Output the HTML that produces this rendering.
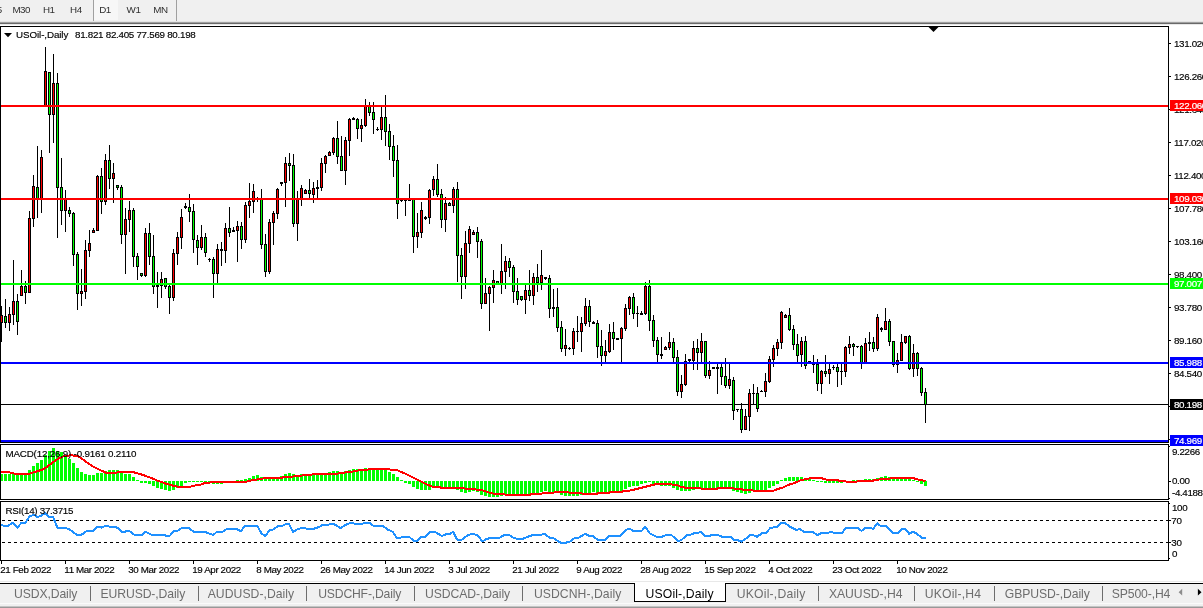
<!DOCTYPE html><html><head><meta charset="utf-8"><title>USOil-,Daily</title><style>
html,body{margin:0;padding:0;background:#fff}
body{width:1203px;height:608px;overflow:hidden;position:relative;font-family:"Liberation Sans",sans-serif;font-size:9.8px;color:#000;-webkit-text-stroke:0.15px #000}
.t{position:absolute;white-space:nowrap;line-height:12px;height:12px}
#tb{position:absolute;left:0;top:0;width:1203px;height:22px;background:#f0f0f0}
#tb .t{color:#303030;top:4.4px;font-size:9.8px;-webkit-text-stroke:0}
.g1{position:absolute;left:0;width:1203px;height:1px}
.ax{left:1174px;letter-spacing:-0.36px}
.d{letter-spacing:-0.19px}
.bx{position:absolute;left:1170px;width:33px;height:11px;color:#fff;line-height:11px;padding-left:4px;letter-spacing:-0.36px;white-space:nowrap;overflow:hidden;-webkit-text-stroke:0.2px #fff}
#tabs{position:absolute;left:0;top:583px;width:1203px;height:25px;background:#f0f0f0}
#tabs .t{font-size:12.2px;color:#6d6d6d;top:3px;line-height:16px;height:16px;letter-spacing:-0.2px;-webkit-text-stroke:0}
.sp{position:absolute;top:3px;width:1px;height:15px;background:#6d6d6d}

</style></head><body>
<div id="tb">
<div style="position:absolute;left:93px;top:0;width:1px;height:21px;background:#a0a0a0"></div>
<div style="position:absolute;left:94px;top:0;width:24px;height:20px;background:#f7f7f7"></div>
<div style="position:absolute;left:176px;top:0;width:1px;height:21px;background:#a0a0a0"></div>
<span class="t" style="left:-3.2px;letter-spacing:-0.45px">5</span>
<span class="t" style="left:12.4px;letter-spacing:-0.55px">M30</span>
<span class="t" style="left:43.0px;letter-spacing:-0.61px">H1</span>
<span class="t" style="left:70.1px;letter-spacing:-0.31px">H4</span>
<span class="t" style="left:99.2px;letter-spacing:-0.54px">D1</span>
<span class="t" style="left:126.4px;letter-spacing:-0.25px">W1</span>
<span class="t" style="left:153.2px;letter-spacing:-0.35px">MN</span>
</div>
<div class="g1" style="top:21px;background:#e3e3e3"></div><div class="g1" style="top:22px;background:#a0a0a0"></div><div class="g1" style="top:23px;background:#696969"></div><div class="g1" style="top:24px;background:#e8e8e8"></div>
<svg width="1203" height="608" viewBox="0 0 1203 608" style="position:absolute;left:0;top:0" shape-rendering="crispEdges">
<rect x="1" y="404" width="1167" height="1" fill="#000"/>
<rect x="1" y="306" width="1" height="36" fill="#000"/>
<rect x="0" y="315" width="3" height="8" fill="#000"/>
<rect x="1" y="316" width="1" height="6" fill="#ff0000"/>
<rect x="5" y="299" width="1" height="29" fill="#000"/>
<rect x="4" y="316" width="3" height="7" fill="#000"/>
<rect x="5" y="317" width="1" height="5" fill="#00ff00"/>
<rect x="9" y="307" width="1" height="24" fill="#000"/>
<rect x="8" y="314" width="3" height="9" fill="#000"/>
<rect x="9" y="315" width="1" height="7" fill="#ff0000"/>
<rect x="13" y="260" width="1" height="65" fill="#000"/>
<rect x="12" y="301" width="3" height="14" fill="#000"/>
<rect x="13" y="302" width="1" height="12" fill="#ff0000"/>
<rect x="17" y="294" width="1" height="41" fill="#000"/>
<rect x="16" y="301" width="3" height="21" fill="#000"/>
<rect x="17" y="302" width="1" height="19" fill="#00ff00"/>
<rect x="21" y="270" width="1" height="26" fill="#000"/>
<rect x="20" y="286" width="3" height="10" fill="#000"/>
<rect x="21" y="287" width="1" height="8" fill="#ff0000"/>
<rect x="25" y="281" width="1" height="23" fill="#000"/>
<rect x="24" y="286" width="3" height="7" fill="#000"/>
<rect x="25" y="287" width="1" height="5" fill="#00ff00"/>
<rect x="29" y="211" width="1" height="82" fill="#000"/>
<rect x="28" y="218" width="3" height="75" fill="#000"/>
<rect x="29" y="219" width="1" height="73" fill="#ff0000"/>
<rect x="33" y="175" width="1" height="52" fill="#000"/>
<rect x="32" y="186" width="3" height="33" fill="#000"/>
<rect x="33" y="187" width="1" height="31" fill="#ff0000"/>
<rect x="37" y="146" width="1" height="72" fill="#000"/>
<rect x="36" y="187" width="3" height="13" fill="#000"/>
<rect x="37" y="188" width="1" height="11" fill="#00ff00"/>
<rect x="41" y="150" width="1" height="63" fill="#000"/>
<rect x="40" y="157" width="3" height="43" fill="#000"/>
<rect x="41" y="158" width="1" height="41" fill="#ff0000"/>
<rect x="45" y="47" width="1" height="59" fill="#000"/>
<rect x="44" y="71" width="3" height="35" fill="#000"/>
<rect x="45" y="72" width="1" height="33" fill="#ff0000"/>
<rect x="49" y="72" width="1" height="81" fill="#000"/>
<rect x="48" y="72" width="3" height="43" fill="#000"/>
<rect x="49" y="73" width="1" height="41" fill="#00ff00"/>
<rect x="53" y="54" width="1" height="89" fill="#000"/>
<rect x="52" y="83" width="3" height="32" fill="#000"/>
<rect x="53" y="84" width="1" height="30" fill="#ff0000"/>
<rect x="57" y="73" width="1" height="165" fill="#000"/>
<rect x="56" y="83" width="3" height="105" fill="#000"/>
<rect x="57" y="84" width="1" height="103" fill="#00ff00"/>
<rect x="61" y="158" width="1" height="67" fill="#000"/>
<rect x="60" y="187" width="3" height="24" fill="#000"/>
<rect x="61" y="188" width="1" height="22" fill="#00ff00"/>
<rect x="65" y="190" width="1" height="42" fill="#000"/>
<rect x="64" y="198" width="3" height="13" fill="#000"/>
<rect x="65" y="199" width="1" height="11" fill="#ff0000"/>
<rect x="69" y="207" width="1" height="10" fill="#000"/>
<rect x="68" y="210" width="3" height="4" fill="#000"/>
<rect x="69" y="211" width="1" height="2" fill="#00ff00"/>
<rect x="73" y="212" width="1" height="54" fill="#000"/>
<rect x="72" y="213" width="3" height="42" fill="#000"/>
<rect x="73" y="214" width="1" height="40" fill="#00ff00"/>
<rect x="77" y="252" width="1" height="58" fill="#000"/>
<rect x="76" y="254" width="3" height="40" fill="#000"/>
<rect x="77" y="255" width="1" height="38" fill="#00ff00"/>
<rect x="81" y="269" width="1" height="37" fill="#000"/>
<rect x="80" y="291" width="3" height="3" fill="#000"/>
<rect x="81" y="292" width="1" height="1" fill="#ff0000"/>
<rect x="85" y="240" width="1" height="59" fill="#000"/>
<rect x="84" y="250" width="3" height="42" fill="#000"/>
<rect x="85" y="251" width="1" height="40" fill="#ff0000"/>
<rect x="89" y="230" width="1" height="27" fill="#000"/>
<rect x="88" y="243" width="3" height="8" fill="#000"/>
<rect x="89" y="244" width="1" height="6" fill="#ff0000"/>
<rect x="93" y="228" width="1" height="5" fill="#000"/>
<rect x="92" y="230" width="3" height="3" fill="#000"/>
<rect x="93" y="231" width="1" height="1" fill="#ff0000"/>
<rect x="97" y="175" width="1" height="56" fill="#000"/>
<rect x="96" y="176" width="3" height="55" fill="#000"/>
<rect x="97" y="177" width="1" height="53" fill="#ff0000"/>
<rect x="101" y="168" width="1" height="46" fill="#000"/>
<rect x="100" y="176" width="3" height="26" fill="#000"/>
<rect x="101" y="177" width="1" height="24" fill="#00ff00"/>
<rect x="105" y="154" width="1" height="51" fill="#000"/>
<rect x="104" y="160" width="3" height="42" fill="#000"/>
<rect x="105" y="161" width="1" height="40" fill="#ff0000"/>
<rect x="109" y="145" width="1" height="44" fill="#000"/>
<rect x="108" y="160" width="3" height="19" fill="#000"/>
<rect x="109" y="161" width="1" height="17" fill="#00ff00"/>
<rect x="113" y="163" width="1" height="40" fill="#000"/>
<rect x="112" y="173" width="3" height="6" fill="#000"/>
<rect x="113" y="174" width="1" height="4" fill="#ff0000"/>
<rect x="117" y="185" width="1" height="5" fill="#000"/>
<rect x="116" y="185" width="3" height="3" fill="#000"/>
<rect x="117" y="186" width="1" height="1" fill="#00ff00"/>
<rect x="121" y="185" width="1" height="59" fill="#000"/>
<rect x="120" y="187" width="3" height="48" fill="#000"/>
<rect x="121" y="188" width="1" height="46" fill="#00ff00"/>
<rect x="125" y="208" width="1" height="66" fill="#000"/>
<rect x="124" y="219" width="3" height="16" fill="#000"/>
<rect x="125" y="220" width="1" height="14" fill="#ff0000"/>
<rect x="129" y="201" width="1" height="31" fill="#000"/>
<rect x="128" y="210" width="3" height="10" fill="#000"/>
<rect x="129" y="211" width="1" height="8" fill="#ff0000"/>
<rect x="133" y="208" width="1" height="59" fill="#000"/>
<rect x="132" y="210" width="3" height="47" fill="#000"/>
<rect x="133" y="211" width="1" height="45" fill="#00ff00"/>
<rect x="137" y="253" width="1" height="27" fill="#000"/>
<rect x="136" y="256" width="3" height="11" fill="#000"/>
<rect x="137" y="257" width="1" height="9" fill="#00ff00"/>
<rect x="141" y="273" width="1" height="4" fill="#000"/>
<rect x="140" y="273" width="3" height="3" fill="#000"/>
<rect x="141" y="274" width="1" height="1" fill="#00ff00"/>
<rect x="145" y="228" width="1" height="49" fill="#000"/>
<rect x="144" y="233" width="3" height="43" fill="#000"/>
<rect x="145" y="234" width="1" height="41" fill="#ff0000"/>
<rect x="149" y="223" width="1" height="42" fill="#000"/>
<rect x="148" y="233" width="3" height="24" fill="#000"/>
<rect x="149" y="234" width="1" height="22" fill="#00ff00"/>
<rect x="153" y="235" width="1" height="59" fill="#000"/>
<rect x="152" y="256" width="3" height="31" fill="#000"/>
<rect x="153" y="257" width="1" height="29" fill="#00ff00"/>
<rect x="157" y="272" width="1" height="36" fill="#000"/>
<rect x="156" y="285" width="3" height="2" fill="#000"/>
<rect x="161" y="272" width="1" height="26" fill="#000"/>
<rect x="160" y="279" width="3" height="7" fill="#000"/>
<rect x="161" y="280" width="1" height="5" fill="#ff0000"/>
<rect x="165" y="278" width="1" height="11" fill="#000"/>
<rect x="164" y="278" width="3" height="9" fill="#000"/>
<rect x="165" y="279" width="1" height="7" fill="#00ff00"/>
<rect x="169" y="285" width="1" height="29" fill="#000"/>
<rect x="168" y="286" width="3" height="12" fill="#000"/>
<rect x="169" y="287" width="1" height="10" fill="#00ff00"/>
<rect x="173" y="249" width="1" height="52" fill="#000"/>
<rect x="172" y="253" width="3" height="45" fill="#000"/>
<rect x="173" y="254" width="1" height="43" fill="#ff0000"/>
<rect x="177" y="232" width="1" height="33" fill="#000"/>
<rect x="176" y="237" width="3" height="17" fill="#000"/>
<rect x="177" y="238" width="1" height="15" fill="#ff0000"/>
<rect x="181" y="209" width="1" height="40" fill="#000"/>
<rect x="180" y="217" width="3" height="21" fill="#000"/>
<rect x="181" y="218" width="1" height="19" fill="#ff0000"/>
<rect x="185" y="203" width="1" height="6" fill="#000"/>
<rect x="184" y="206" width="3" height="2" fill="#000"/>
<rect x="189" y="194" width="1" height="28" fill="#000"/>
<rect x="188" y="207" width="3" height="5" fill="#000"/>
<rect x="189" y="208" width="1" height="3" fill="#00ff00"/>
<rect x="193" y="204" width="1" height="49" fill="#000"/>
<rect x="192" y="211" width="3" height="29" fill="#000"/>
<rect x="193" y="212" width="1" height="27" fill="#00ff00"/>
<rect x="197" y="235" width="1" height="30" fill="#000"/>
<rect x="196" y="240" width="3" height="8" fill="#000"/>
<rect x="197" y="241" width="1" height="6" fill="#00ff00"/>
<rect x="201" y="225" width="1" height="25" fill="#000"/>
<rect x="200" y="237" width="3" height="11" fill="#000"/>
<rect x="201" y="238" width="1" height="9" fill="#ff0000"/>
<rect x="205" y="233" width="1" height="24" fill="#000"/>
<rect x="204" y="237" width="3" height="16" fill="#000"/>
<rect x="205" y="238" width="1" height="14" fill="#00ff00"/>
<rect x="209" y="258" width="1" height="4" fill="#000"/>
<rect x="208" y="259" width="3" height="1" fill="#000"/>
<rect x="213" y="257" width="1" height="41" fill="#000"/>
<rect x="212" y="259" width="3" height="15" fill="#000"/>
<rect x="213" y="260" width="1" height="13" fill="#00ff00"/>
<rect x="217" y="244" width="1" height="40" fill="#000"/>
<rect x="216" y="249" width="3" height="25" fill="#000"/>
<rect x="217" y="250" width="1" height="23" fill="#ff0000"/>
<rect x="221" y="242" width="1" height="24" fill="#000"/>
<rect x="220" y="249" width="3" height="2" fill="#000"/>
<rect x="225" y="223" width="1" height="40" fill="#000"/>
<rect x="224" y="228" width="3" height="23" fill="#000"/>
<rect x="225" y="229" width="1" height="21" fill="#ff0000"/>
<rect x="229" y="207" width="1" height="30" fill="#000"/>
<rect x="228" y="228" width="3" height="5" fill="#000"/>
<rect x="229" y="229" width="1" height="3" fill="#00ff00"/>
<rect x="233" y="227" width="1" height="5" fill="#000"/>
<rect x="232" y="230" width="3" height="2" fill="#000"/>
<rect x="237" y="221" width="1" height="41" fill="#000"/>
<rect x="236" y="226" width="3" height="5" fill="#000"/>
<rect x="237" y="227" width="1" height="3" fill="#ff0000"/>
<rect x="241" y="222" width="1" height="27" fill="#000"/>
<rect x="240" y="226" width="3" height="14" fill="#000"/>
<rect x="241" y="227" width="1" height="12" fill="#00ff00"/>
<rect x="245" y="202" width="1" height="41" fill="#000"/>
<rect x="244" y="205" width="3" height="35" fill="#000"/>
<rect x="245" y="206" width="1" height="33" fill="#ff0000"/>
<rect x="249" y="183" width="1" height="35" fill="#000"/>
<rect x="248" y="201" width="3" height="5" fill="#000"/>
<rect x="249" y="202" width="1" height="3" fill="#ff0000"/>
<rect x="253" y="184" width="1" height="29" fill="#000"/>
<rect x="252" y="191" width="3" height="11" fill="#000"/>
<rect x="253" y="192" width="1" height="9" fill="#ff0000"/>
<rect x="257" y="197" width="1" height="5" fill="#000"/>
<rect x="256" y="199" width="3" height="1" fill="#000"/>
<rect x="261" y="189" width="1" height="60" fill="#000"/>
<rect x="260" y="198" width="3" height="47" fill="#000"/>
<rect x="261" y="199" width="1" height="45" fill="#00ff00"/>
<rect x="265" y="234" width="1" height="43" fill="#000"/>
<rect x="264" y="244" width="3" height="28" fill="#000"/>
<rect x="265" y="245" width="1" height="26" fill="#00ff00"/>
<rect x="269" y="219" width="1" height="55" fill="#000"/>
<rect x="268" y="222" width="3" height="50" fill="#000"/>
<rect x="269" y="223" width="1" height="48" fill="#ff0000"/>
<rect x="273" y="211" width="1" height="34" fill="#000"/>
<rect x="272" y="213" width="3" height="10" fill="#000"/>
<rect x="273" y="214" width="1" height="8" fill="#ff0000"/>
<rect x="277" y="188" width="1" height="31" fill="#000"/>
<rect x="276" y="189" width="3" height="25" fill="#000"/>
<rect x="277" y="190" width="1" height="23" fill="#ff0000"/>
<rect x="281" y="182" width="1" height="4" fill="#000"/>
<rect x="280" y="182" width="3" height="2" fill="#000"/>
<rect x="285" y="157" width="1" height="50" fill="#000"/>
<rect x="284" y="163" width="3" height="20" fill="#000"/>
<rect x="285" y="164" width="1" height="18" fill="#ff0000"/>
<rect x="289" y="153" width="1" height="28" fill="#000"/>
<rect x="288" y="163" width="3" height="3" fill="#000"/>
<rect x="289" y="164" width="1" height="1" fill="#00ff00"/>
<rect x="293" y="154" width="1" height="73" fill="#000"/>
<rect x="292" y="165" width="3" height="59" fill="#000"/>
<rect x="293" y="166" width="1" height="57" fill="#00ff00"/>
<rect x="297" y="191" width="1" height="50" fill="#000"/>
<rect x="296" y="199" width="3" height="25" fill="#000"/>
<rect x="297" y="200" width="1" height="23" fill="#ff0000"/>
<rect x="301" y="185" width="1" height="21" fill="#000"/>
<rect x="300" y="188" width="3" height="11" fill="#000"/>
<rect x="301" y="189" width="1" height="9" fill="#ff0000"/>
<rect x="305" y="189" width="1" height="5" fill="#000"/>
<rect x="304" y="190" width="3" height="4" fill="#000"/>
<rect x="305" y="191" width="1" height="2" fill="#ff0000"/>
<rect x="309" y="179" width="1" height="19" fill="#000"/>
<rect x="308" y="190" width="3" height="4" fill="#000"/>
<rect x="309" y="191" width="1" height="2" fill="#00ff00"/>
<rect x="313" y="182" width="1" height="21" fill="#000"/>
<rect x="312" y="188" width="3" height="7" fill="#000"/>
<rect x="313" y="189" width="1" height="5" fill="#ff0000"/>
<rect x="317" y="180" width="1" height="18" fill="#000"/>
<rect x="316" y="187" width="3" height="2" fill="#000"/>
<rect x="321" y="158" width="1" height="33" fill="#000"/>
<rect x="320" y="163" width="3" height="25" fill="#000"/>
<rect x="321" y="164" width="1" height="23" fill="#ff0000"/>
<rect x="325" y="155" width="1" height="18" fill="#000"/>
<rect x="324" y="156" width="3" height="8" fill="#000"/>
<rect x="325" y="157" width="1" height="6" fill="#ff0000"/>
<rect x="329" y="151" width="1" height="5" fill="#000"/>
<rect x="328" y="152" width="3" height="4" fill="#000"/>
<rect x="329" y="153" width="1" height="2" fill="#ff0000"/>
<rect x="333" y="137" width="1" height="18" fill="#000"/>
<rect x="332" y="138" width="3" height="15" fill="#000"/>
<rect x="333" y="139" width="1" height="13" fill="#ff0000"/>
<rect x="337" y="121" width="1" height="43" fill="#000"/>
<rect x="336" y="138" width="3" height="19" fill="#000"/>
<rect x="337" y="139" width="1" height="17" fill="#00ff00"/>
<rect x="341" y="136" width="1" height="35" fill="#000"/>
<rect x="340" y="156" width="3" height="15" fill="#000"/>
<rect x="341" y="157" width="1" height="13" fill="#00ff00"/>
<rect x="345" y="137" width="1" height="48" fill="#000"/>
<rect x="344" y="140" width="3" height="31" fill="#000"/>
<rect x="345" y="141" width="1" height="29" fill="#ff0000"/>
<rect x="349" y="118" width="1" height="38" fill="#000"/>
<rect x="348" y="119" width="3" height="22" fill="#000"/>
<rect x="349" y="120" width="1" height="20" fill="#ff0000"/>
<rect x="353" y="117" width="1" height="3" fill="#000"/>
<rect x="352" y="118" width="3" height="2" fill="#000"/>
<rect x="357" y="118" width="1" height="21" fill="#000"/>
<rect x="356" y="119" width="3" height="10" fill="#000"/>
<rect x="357" y="120" width="1" height="8" fill="#00ff00"/>
<rect x="361" y="119" width="1" height="23" fill="#000"/>
<rect x="360" y="125" width="3" height="4" fill="#000"/>
<rect x="361" y="126" width="1" height="2" fill="#ff0000"/>
<rect x="365" y="99" width="1" height="28" fill="#000"/>
<rect x="364" y="105" width="3" height="21" fill="#000"/>
<rect x="365" y="106" width="1" height="19" fill="#ff0000"/>
<rect x="369" y="102" width="1" height="14" fill="#000"/>
<rect x="368" y="106" width="3" height="7" fill="#000"/>
<rect x="369" y="107" width="1" height="5" fill="#00ff00"/>
<rect x="373" y="102" width="1" height="32" fill="#000"/>
<rect x="372" y="112" width="3" height="8" fill="#000"/>
<rect x="373" y="113" width="1" height="6" fill="#00ff00"/>
<rect x="377" y="127" width="1" height="4" fill="#000"/>
<rect x="376" y="129" width="3" height="1" fill="#000"/>
<rect x="381" y="106" width="1" height="34" fill="#000"/>
<rect x="380" y="117" width="3" height="13" fill="#000"/>
<rect x="381" y="118" width="1" height="11" fill="#ff0000"/>
<rect x="385" y="95" width="1" height="51" fill="#000"/>
<rect x="384" y="117" width="3" height="15" fill="#000"/>
<rect x="385" y="118" width="1" height="13" fill="#00ff00"/>
<rect x="389" y="124" width="1" height="36" fill="#000"/>
<rect x="388" y="131" width="3" height="16" fill="#000"/>
<rect x="389" y="132" width="1" height="14" fill="#00ff00"/>
<rect x="393" y="135" width="1" height="42" fill="#000"/>
<rect x="392" y="146" width="3" height="15" fill="#000"/>
<rect x="393" y="147" width="1" height="13" fill="#00ff00"/>
<rect x="397" y="145" width="1" height="74" fill="#000"/>
<rect x="396" y="160" width="3" height="44" fill="#000"/>
<rect x="397" y="161" width="1" height="42" fill="#00ff00"/>
<rect x="401" y="199" width="1" height="3" fill="#000"/>
<rect x="400" y="200" width="3" height="1" fill="#000"/>
<rect x="405" y="198" width="1" height="18" fill="#000"/>
<rect x="404" y="200" width="3" height="1" fill="#000"/>
<rect x="409" y="184" width="1" height="17" fill="#000"/>
<rect x="408" y="200" width="3" height="1" fill="#000"/>
<rect x="413" y="200" width="1" height="53" fill="#000"/>
<rect x="412" y="199" width="3" height="38" fill="#000"/>
<rect x="413" y="200" width="1" height="36" fill="#00ff00"/>
<rect x="417" y="213" width="1" height="35" fill="#000"/>
<rect x="416" y="232" width="3" height="5" fill="#000"/>
<rect x="417" y="233" width="1" height="3" fill="#ff0000"/>
<rect x="421" y="202" width="1" height="36" fill="#000"/>
<rect x="420" y="210" width="3" height="23" fill="#000"/>
<rect x="421" y="211" width="1" height="21" fill="#ff0000"/>
<rect x="425" y="216" width="1" height="4" fill="#000"/>
<rect x="424" y="217" width="3" height="2" fill="#000"/>
<rect x="429" y="189" width="1" height="35" fill="#000"/>
<rect x="428" y="190" width="3" height="28" fill="#000"/>
<rect x="429" y="191" width="1" height="26" fill="#ff0000"/>
<rect x="433" y="176" width="1" height="20" fill="#000"/>
<rect x="432" y="179" width="3" height="11" fill="#000"/>
<rect x="433" y="180" width="1" height="9" fill="#ff0000"/>
<rect x="437" y="164" width="1" height="33" fill="#000"/>
<rect x="436" y="179" width="3" height="16" fill="#000"/>
<rect x="437" y="180" width="1" height="14" fill="#00ff00"/>
<rect x="441" y="189" width="1" height="39" fill="#000"/>
<rect x="440" y="194" width="3" height="26" fill="#000"/>
<rect x="441" y="195" width="1" height="24" fill="#00ff00"/>
<rect x="445" y="197" width="1" height="35" fill="#000"/>
<rect x="444" y="203" width="3" height="17" fill="#000"/>
<rect x="445" y="204" width="1" height="15" fill="#ff0000"/>
<rect x="449" y="202" width="1" height="4" fill="#000"/>
<rect x="448" y="203" width="3" height="3" fill="#000"/>
<rect x="449" y="204" width="1" height="1" fill="#00ff00"/>
<rect x="453" y="187" width="1" height="26" fill="#000"/>
<rect x="452" y="189" width="3" height="17" fill="#000"/>
<rect x="453" y="190" width="1" height="15" fill="#ff0000"/>
<rect x="457" y="182" width="1" height="100" fill="#000"/>
<rect x="456" y="189" width="3" height="67" fill="#000"/>
<rect x="457" y="190" width="1" height="65" fill="#00ff00"/>
<rect x="461" y="248" width="1" height="51" fill="#000"/>
<rect x="460" y="255" width="3" height="22" fill="#000"/>
<rect x="461" y="256" width="1" height="20" fill="#00ff00"/>
<rect x="465" y="231" width="1" height="58" fill="#000"/>
<rect x="464" y="243" width="3" height="34" fill="#000"/>
<rect x="465" y="244" width="1" height="32" fill="#ff0000"/>
<rect x="469" y="226" width="1" height="27" fill="#000"/>
<rect x="468" y="229" width="3" height="15" fill="#000"/>
<rect x="469" y="230" width="1" height="13" fill="#ff0000"/>
<rect x="473" y="230" width="1" height="5" fill="#000"/>
<rect x="472" y="232" width="3" height="3" fill="#000"/>
<rect x="473" y="233" width="1" height="1" fill="#ff0000"/>
<rect x="477" y="227" width="1" height="31" fill="#000"/>
<rect x="476" y="232" width="3" height="10" fill="#000"/>
<rect x="477" y="233" width="1" height="8" fill="#00ff00"/>
<rect x="481" y="239" width="1" height="70" fill="#000"/>
<rect x="480" y="241" width="3" height="63" fill="#000"/>
<rect x="481" y="242" width="1" height="61" fill="#00ff00"/>
<rect x="485" y="278" width="1" height="26" fill="#000"/>
<rect x="484" y="293" width="3" height="11" fill="#000"/>
<rect x="485" y="294" width="1" height="9" fill="#ff0000"/>
<rect x="489" y="286" width="1" height="45" fill="#000"/>
<rect x="488" y="287" width="3" height="7" fill="#000"/>
<rect x="489" y="288" width="1" height="5" fill="#ff0000"/>
<rect x="493" y="270" width="1" height="33" fill="#000"/>
<rect x="492" y="280" width="3" height="8" fill="#000"/>
<rect x="493" y="281" width="1" height="6" fill="#ff0000"/>
<rect x="497" y="281" width="1" height="3" fill="#000"/>
<rect x="496" y="281" width="3" height="3" fill="#000"/>
<rect x="497" y="282" width="1" height="1" fill="#00ff00"/>
<rect x="501" y="244" width="1" height="50" fill="#000"/>
<rect x="500" y="271" width="3" height="13" fill="#000"/>
<rect x="501" y="272" width="1" height="11" fill="#ff0000"/>
<rect x="505" y="256" width="1" height="33" fill="#000"/>
<rect x="504" y="261" width="3" height="11" fill="#000"/>
<rect x="505" y="262" width="1" height="9" fill="#ff0000"/>
<rect x="509" y="258" width="1" height="19" fill="#000"/>
<rect x="508" y="261" width="3" height="7" fill="#000"/>
<rect x="509" y="262" width="1" height="5" fill="#00ff00"/>
<rect x="513" y="265" width="1" height="38" fill="#000"/>
<rect x="512" y="267" width="3" height="25" fill="#000"/>
<rect x="513" y="268" width="1" height="23" fill="#00ff00"/>
<rect x="517" y="278" width="1" height="27" fill="#000"/>
<rect x="516" y="291" width="3" height="9" fill="#000"/>
<rect x="517" y="292" width="1" height="7" fill="#00ff00"/>
<rect x="521" y="296" width="1" height="5" fill="#000"/>
<rect x="520" y="296" width="3" height="4" fill="#000"/>
<rect x="521" y="297" width="1" height="2" fill="#00ff00"/>
<rect x="525" y="285" width="1" height="29" fill="#000"/>
<rect x="524" y="290" width="3" height="10" fill="#000"/>
<rect x="525" y="291" width="1" height="8" fill="#ff0000"/>
<rect x="529" y="270" width="1" height="31" fill="#000"/>
<rect x="528" y="290" width="3" height="6" fill="#000"/>
<rect x="529" y="291" width="1" height="4" fill="#00ff00"/>
<rect x="533" y="273" width="1" height="32" fill="#000"/>
<rect x="532" y="277" width="3" height="19" fill="#000"/>
<rect x="533" y="278" width="1" height="17" fill="#ff0000"/>
<rect x="537" y="264" width="1" height="28" fill="#000"/>
<rect x="536" y="277" width="3" height="6" fill="#000"/>
<rect x="537" y="278" width="1" height="4" fill="#00ff00"/>
<rect x="541" y="250" width="1" height="40" fill="#000"/>
<rect x="540" y="275" width="3" height="8" fill="#000"/>
<rect x="541" y="276" width="1" height="6" fill="#ff0000"/>
<rect x="545" y="277" width="1" height="3" fill="#000"/>
<rect x="544" y="277" width="3" height="2" fill="#000"/>
<rect x="549" y="275" width="1" height="43" fill="#000"/>
<rect x="548" y="278" width="3" height="31" fill="#000"/>
<rect x="549" y="279" width="1" height="29" fill="#00ff00"/>
<rect x="553" y="289" width="1" height="28" fill="#000"/>
<rect x="552" y="307" width="3" height="2" fill="#000"/>
<rect x="557" y="288" width="1" height="44" fill="#000"/>
<rect x="556" y="307" width="3" height="21" fill="#000"/>
<rect x="557" y="308" width="1" height="19" fill="#00ff00"/>
<rect x="561" y="321" width="1" height="31" fill="#000"/>
<rect x="560" y="327" width="3" height="22" fill="#000"/>
<rect x="561" y="328" width="1" height="20" fill="#00ff00"/>
<rect x="565" y="329" width="1" height="27" fill="#000"/>
<rect x="564" y="345" width="3" height="4" fill="#000"/>
<rect x="565" y="346" width="1" height="2" fill="#ff0000"/>
<rect x="569" y="347" width="1" height="3" fill="#000"/>
<rect x="568" y="348" width="3" height="1" fill="#000"/>
<rect x="573" y="328" width="1" height="27" fill="#000"/>
<rect x="572" y="331" width="3" height="18" fill="#000"/>
<rect x="573" y="332" width="1" height="16" fill="#ff0000"/>
<rect x="577" y="316" width="1" height="26" fill="#000"/>
<rect x="576" y="331" width="3" height="1" fill="#000"/>
<rect x="581" y="317" width="1" height="35" fill="#000"/>
<rect x="580" y="323" width="3" height="9" fill="#000"/>
<rect x="581" y="324" width="1" height="7" fill="#ff0000"/>
<rect x="585" y="298" width="1" height="28" fill="#000"/>
<rect x="584" y="306" width="3" height="18" fill="#000"/>
<rect x="585" y="307" width="1" height="16" fill="#ff0000"/>
<rect x="589" y="300" width="1" height="27" fill="#000"/>
<rect x="588" y="306" width="3" height="16" fill="#000"/>
<rect x="589" y="307" width="1" height="14" fill="#00ff00"/>
<rect x="593" y="321" width="1" height="3" fill="#000"/>
<rect x="592" y="322" width="3" height="2" fill="#000"/>
<rect x="597" y="320" width="1" height="38" fill="#000"/>
<rect x="596" y="323" width="3" height="24" fill="#000"/>
<rect x="597" y="324" width="1" height="22" fill="#00ff00"/>
<rect x="601" y="330" width="1" height="36" fill="#000"/>
<rect x="600" y="346" width="3" height="10" fill="#000"/>
<rect x="601" y="347" width="1" height="8" fill="#00ff00"/>
<rect x="605" y="340" width="1" height="23" fill="#000"/>
<rect x="604" y="351" width="3" height="5" fill="#000"/>
<rect x="605" y="352" width="1" height="3" fill="#ff0000"/>
<rect x="609" y="324" width="1" height="29" fill="#000"/>
<rect x="608" y="332" width="3" height="20" fill="#000"/>
<rect x="609" y="333" width="1" height="18" fill="#ff0000"/>
<rect x="613" y="322" width="1" height="28" fill="#000"/>
<rect x="612" y="332" width="3" height="7" fill="#000"/>
<rect x="613" y="333" width="1" height="5" fill="#00ff00"/>
<rect x="617" y="338" width="1" height="2" fill="#000"/>
<rect x="616" y="338" width="3" height="2" fill="#000"/>
<rect x="621" y="327" width="1" height="36" fill="#000"/>
<rect x="620" y="328" width="3" height="11" fill="#000"/>
<rect x="621" y="329" width="1" height="9" fill="#ff0000"/>
<rect x="625" y="304" width="1" height="27" fill="#000"/>
<rect x="624" y="308" width="3" height="21" fill="#000"/>
<rect x="625" y="309" width="1" height="19" fill="#ff0000"/>
<rect x="629" y="296" width="1" height="19" fill="#000"/>
<rect x="628" y="297" width="3" height="12" fill="#000"/>
<rect x="629" y="298" width="1" height="10" fill="#ff0000"/>
<rect x="633" y="293" width="1" height="26" fill="#000"/>
<rect x="632" y="297" width="3" height="17" fill="#000"/>
<rect x="633" y="298" width="1" height="15" fill="#00ff00"/>
<rect x="637" y="306" width="1" height="21" fill="#000"/>
<rect x="636" y="313" width="3" height="1" fill="#000"/>
<rect x="641" y="311" width="1" height="4" fill="#000"/>
<rect x="640" y="313" width="3" height="2" fill="#000"/>
<rect x="645" y="282" width="1" height="33" fill="#000"/>
<rect x="644" y="286" width="3" height="28" fill="#000"/>
<rect x="645" y="287" width="1" height="26" fill="#ff0000"/>
<rect x="649" y="280" width="1" height="51" fill="#000"/>
<rect x="648" y="286" width="3" height="35" fill="#000"/>
<rect x="649" y="287" width="1" height="33" fill="#00ff00"/>
<rect x="653" y="315" width="1" height="32" fill="#000"/>
<rect x="652" y="320" width="3" height="21" fill="#000"/>
<rect x="653" y="321" width="1" height="19" fill="#00ff00"/>
<rect x="657" y="337" width="1" height="26" fill="#000"/>
<rect x="656" y="340" width="3" height="15" fill="#000"/>
<rect x="657" y="341" width="1" height="13" fill="#00ff00"/>
<rect x="661" y="337" width="1" height="22" fill="#000"/>
<rect x="660" y="354" width="3" height="2" fill="#000"/>
<rect x="665" y="346" width="1" height="4" fill="#000"/>
<rect x="664" y="347" width="3" height="3" fill="#000"/>
<rect x="665" y="348" width="1" height="1" fill="#ff0000"/>
<rect x="669" y="332" width="1" height="18" fill="#000"/>
<rect x="668" y="342" width="3" height="6" fill="#000"/>
<rect x="669" y="343" width="1" height="4" fill="#ff0000"/>
<rect x="673" y="338" width="1" height="25" fill="#000"/>
<rect x="672" y="342" width="3" height="16" fill="#000"/>
<rect x="673" y="343" width="1" height="14" fill="#00ff00"/>
<rect x="677" y="350" width="1" height="46" fill="#000"/>
<rect x="676" y="357" width="3" height="35" fill="#000"/>
<rect x="677" y="358" width="1" height="33" fill="#00ff00"/>
<rect x="681" y="375" width="1" height="23" fill="#000"/>
<rect x="680" y="384" width="3" height="8" fill="#000"/>
<rect x="681" y="385" width="1" height="6" fill="#ff0000"/>
<rect x="685" y="354" width="1" height="32" fill="#000"/>
<rect x="684" y="361" width="3" height="24" fill="#000"/>
<rect x="685" y="362" width="1" height="22" fill="#ff0000"/>
<rect x="689" y="359" width="1" height="3" fill="#000"/>
<rect x="688" y="359" width="3" height="2" fill="#000"/>
<rect x="693" y="341" width="1" height="29" fill="#000"/>
<rect x="692" y="348" width="3" height="13" fill="#000"/>
<rect x="693" y="349" width="1" height="11" fill="#ff0000"/>
<rect x="697" y="339" width="1" height="31" fill="#000"/>
<rect x="696" y="348" width="3" height="5" fill="#000"/>
<rect x="697" y="349" width="1" height="3" fill="#00ff00"/>
<rect x="701" y="333" width="1" height="30" fill="#000"/>
<rect x="700" y="341" width="3" height="12" fill="#000"/>
<rect x="701" y="342" width="1" height="10" fill="#ff0000"/>
<rect x="705" y="341" width="1" height="37" fill="#000"/>
<rect x="704" y="341" width="3" height="35" fill="#000"/>
<rect x="705" y="342" width="1" height="33" fill="#00ff00"/>
<rect x="709" y="361" width="1" height="18" fill="#000"/>
<rect x="708" y="370" width="3" height="6" fill="#000"/>
<rect x="709" y="371" width="1" height="4" fill="#ff0000"/>
<rect x="713" y="367" width="1" height="2" fill="#000"/>
<rect x="712" y="367" width="3" height="2" fill="#000"/>
<rect x="717" y="364" width="1" height="30" fill="#000"/>
<rect x="716" y="367" width="3" height="2" fill="#000"/>
<rect x="721" y="364" width="1" height="21" fill="#000"/>
<rect x="720" y="367" width="3" height="10" fill="#000"/>
<rect x="721" y="368" width="1" height="8" fill="#00ff00"/>
<rect x="725" y="358" width="1" height="30" fill="#000"/>
<rect x="724" y="376" width="3" height="10" fill="#000"/>
<rect x="725" y="377" width="1" height="8" fill="#00ff00"/>
<rect x="729" y="363" width="1" height="26" fill="#000"/>
<rect x="728" y="379" width="3" height="7" fill="#000"/>
<rect x="729" y="380" width="1" height="5" fill="#ff0000"/>
<rect x="733" y="377" width="1" height="43" fill="#000"/>
<rect x="732" y="380" width="3" height="31" fill="#000"/>
<rect x="733" y="381" width="1" height="29" fill="#00ff00"/>
<rect x="737" y="409" width="1" height="3" fill="#000"/>
<rect x="736" y="409" width="3" height="1" fill="#000"/>
<rect x="741" y="403" width="1" height="30" fill="#000"/>
<rect x="740" y="409" width="3" height="21" fill="#000"/>
<rect x="741" y="410" width="1" height="19" fill="#00ff00"/>
<rect x="745" y="409" width="1" height="21" fill="#000"/>
<rect x="744" y="416" width="3" height="14" fill="#000"/>
<rect x="745" y="417" width="1" height="12" fill="#ff0000"/>
<rect x="749" y="389" width="1" height="42" fill="#000"/>
<rect x="748" y="393" width="3" height="24" fill="#000"/>
<rect x="749" y="394" width="1" height="22" fill="#ff0000"/>
<rect x="753" y="384" width="1" height="20" fill="#000"/>
<rect x="752" y="393" width="3" height="1" fill="#000"/>
<rect x="757" y="387" width="1" height="25" fill="#000"/>
<rect x="756" y="393" width="3" height="16" fill="#000"/>
<rect x="757" y="394" width="1" height="14" fill="#00ff00"/>
<rect x="761" y="390" width="1" height="2" fill="#000"/>
<rect x="760" y="391" width="3" height="1" fill="#000"/>
<rect x="765" y="373" width="1" height="24" fill="#000"/>
<rect x="764" y="381" width="3" height="11" fill="#000"/>
<rect x="765" y="382" width="1" height="9" fill="#ff0000"/>
<rect x="769" y="356" width="1" height="27" fill="#000"/>
<rect x="768" y="359" width="3" height="23" fill="#000"/>
<rect x="769" y="360" width="1" height="21" fill="#ff0000"/>
<rect x="773" y="345" width="1" height="22" fill="#000"/>
<rect x="772" y="348" width="3" height="12" fill="#000"/>
<rect x="773" y="349" width="1" height="10" fill="#ff0000"/>
<rect x="777" y="339" width="1" height="17" fill="#000"/>
<rect x="776" y="342" width="3" height="7" fill="#000"/>
<rect x="777" y="343" width="1" height="5" fill="#ff0000"/>
<rect x="781" y="311" width="1" height="38" fill="#000"/>
<rect x="780" y="312" width="3" height="31" fill="#000"/>
<rect x="781" y="313" width="1" height="29" fill="#ff0000"/>
<rect x="785" y="314" width="1" height="4" fill="#000"/>
<rect x="784" y="315" width="3" height="3" fill="#000"/>
<rect x="785" y="316" width="1" height="1" fill="#ff0000"/>
<rect x="789" y="308" width="1" height="23" fill="#000"/>
<rect x="788" y="315" width="3" height="15" fill="#000"/>
<rect x="789" y="316" width="1" height="13" fill="#00ff00"/>
<rect x="793" y="325" width="1" height="25" fill="#000"/>
<rect x="792" y="329" width="3" height="16" fill="#000"/>
<rect x="793" y="330" width="1" height="14" fill="#00ff00"/>
<rect x="797" y="334" width="1" height="29" fill="#000"/>
<rect x="796" y="344" width="3" height="12" fill="#000"/>
<rect x="797" y="345" width="1" height="10" fill="#00ff00"/>
<rect x="801" y="337" width="1" height="30" fill="#000"/>
<rect x="800" y="341" width="3" height="14" fill="#000"/>
<rect x="801" y="342" width="1" height="12" fill="#ff0000"/>
<rect x="805" y="336" width="1" height="33" fill="#000"/>
<rect x="804" y="341" width="3" height="25" fill="#000"/>
<rect x="805" y="342" width="1" height="23" fill="#00ff00"/>
<rect x="808" y="361" width="3" height="1" fill="#000"/>
<rect x="813" y="355" width="1" height="18" fill="#000"/>
<rect x="812" y="362" width="3" height="3" fill="#000"/>
<rect x="817" y="359" width="1" height="32" fill="#000"/>
<rect x="816" y="364" width="3" height="20" fill="#000"/>
<rect x="817" y="365" width="1" height="18" fill="#00ff00"/>
<rect x="821" y="370" width="1" height="24" fill="#000"/>
<rect x="820" y="371" width="3" height="13" fill="#000"/>
<rect x="821" y="372" width="1" height="11" fill="#ff0000"/>
<rect x="825" y="355" width="1" height="22" fill="#000"/>
<rect x="824" y="371" width="3" height="3" fill="#000"/>
<rect x="825" y="372" width="1" height="1" fill="#00ff00"/>
<rect x="829" y="364" width="1" height="20" fill="#000"/>
<rect x="828" y="369" width="3" height="5" fill="#000"/>
<rect x="829" y="370" width="1" height="3" fill="#ff0000"/>
<rect x="833" y="365" width="1" height="5" fill="#000"/>
<rect x="832" y="367" width="3" height="1" fill="#000"/>
<rect x="837" y="364" width="1" height="23" fill="#000"/>
<rect x="836" y="367" width="3" height="5" fill="#000"/>
<rect x="837" y="368" width="1" height="3" fill="#00ff00"/>
<rect x="841" y="364" width="1" height="21" fill="#000"/>
<rect x="840" y="371" width="3" height="1" fill="#000"/>
<rect x="845" y="346" width="1" height="31" fill="#000"/>
<rect x="844" y="347" width="3" height="25" fill="#000"/>
<rect x="845" y="348" width="1" height="23" fill="#ff0000"/>
<rect x="849" y="336" width="1" height="18" fill="#000"/>
<rect x="848" y="344" width="3" height="4" fill="#000"/>
<rect x="849" y="345" width="1" height="2" fill="#ff0000"/>
<rect x="853" y="343" width="1" height="13" fill="#000"/>
<rect x="852" y="344" width="3" height="3" fill="#000"/>
<rect x="853" y="345" width="1" height="1" fill="#00ff00"/>
<rect x="857" y="346" width="1" height="2" fill="#000"/>
<rect x="856" y="346" width="3" height="1" fill="#000"/>
<rect x="861" y="345" width="1" height="24" fill="#000"/>
<rect x="860" y="346" width="3" height="17" fill="#000"/>
<rect x="861" y="347" width="1" height="15" fill="#00ff00"/>
<rect x="865" y="338" width="1" height="25" fill="#000"/>
<rect x="864" y="343" width="3" height="20" fill="#000"/>
<rect x="865" y="344" width="1" height="18" fill="#ff0000"/>
<rect x="869" y="332" width="1" height="19" fill="#000"/>
<rect x="868" y="342" width="3" height="2" fill="#000"/>
<rect x="873" y="337" width="1" height="15" fill="#000"/>
<rect x="872" y="342" width="3" height="7" fill="#000"/>
<rect x="873" y="343" width="1" height="5" fill="#00ff00"/>
<rect x="877" y="314" width="1" height="37" fill="#000"/>
<rect x="876" y="317" width="3" height="32" fill="#000"/>
<rect x="877" y="318" width="1" height="30" fill="#ff0000"/>
<rect x="881" y="327" width="1" height="5" fill="#000"/>
<rect x="880" y="328" width="3" height="2" fill="#000"/>
<rect x="885" y="308" width="1" height="22" fill="#000"/>
<rect x="884" y="321" width="3" height="9" fill="#000"/>
<rect x="885" y="322" width="1" height="7" fill="#ff0000"/>
<rect x="889" y="319" width="1" height="27" fill="#000"/>
<rect x="888" y="321" width="3" height="21" fill="#000"/>
<rect x="889" y="322" width="1" height="19" fill="#00ff00"/>
<rect x="893" y="341" width="1" height="26" fill="#000"/>
<rect x="892" y="341" width="3" height="24" fill="#000"/>
<rect x="893" y="342" width="1" height="22" fill="#00ff00"/>
<rect x="897" y="353" width="1" height="20" fill="#000"/>
<rect x="896" y="360" width="3" height="5" fill="#000"/>
<rect x="897" y="361" width="1" height="3" fill="#ff0000"/>
<rect x="901" y="334" width="1" height="27" fill="#000"/>
<rect x="900" y="342" width="3" height="19" fill="#000"/>
<rect x="901" y="343" width="1" height="17" fill="#ff0000"/>
<rect x="905" y="336" width="1" height="8" fill="#000"/>
<rect x="904" y="336" width="3" height="7" fill="#000"/>
<rect x="905" y="337" width="1" height="5" fill="#ff0000"/>
<rect x="909" y="335" width="1" height="35" fill="#000"/>
<rect x="908" y="336" width="3" height="33" fill="#000"/>
<rect x="909" y="337" width="1" height="31" fill="#00ff00"/>
<rect x="913" y="344" width="1" height="33" fill="#000"/>
<rect x="912" y="353" width="3" height="16" fill="#000"/>
<rect x="913" y="354" width="1" height="14" fill="#ff0000"/>
<rect x="917" y="352" width="1" height="24" fill="#000"/>
<rect x="916" y="353" width="3" height="16" fill="#000"/>
<rect x="917" y="354" width="1" height="14" fill="#00ff00"/>
<rect x="921" y="367" width="1" height="29" fill="#000"/>
<rect x="920" y="368" width="3" height="25" fill="#000"/>
<rect x="921" y="369" width="1" height="23" fill="#00ff00"/>
<rect x="925" y="388" width="1" height="35" fill="#000"/>
<rect x="924" y="392" width="3" height="13" fill="#000"/>
<rect x="925" y="393" width="1" height="11" fill="#00ff00"/>
<rect x="1" y="105" width="1167" height="2" fill="#ff0000"/>
<rect x="1" y="198" width="1167" height="2" fill="#ff0000"/>
<rect x="1" y="283" width="1167" height="2" fill="#00ff00"/>
<rect x="1" y="362" width="1167" height="2" fill="#0000ff"/>
<rect x="1" y="440" width="1167" height="2" fill="#0000ff"/>
<rect x="0" y="474" width="3" height="7" fill="#00ff00"/>
<rect x="4" y="474" width="3" height="7" fill="#00ff00"/>
<rect x="8" y="474" width="3" height="7" fill="#00ff00"/>
<rect x="12" y="474" width="3" height="7" fill="#00ff00"/>
<rect x="16" y="475" width="3" height="6" fill="#00ff00"/>
<rect x="20" y="475" width="3" height="6" fill="#00ff00"/>
<rect x="24" y="474" width="3" height="7" fill="#00ff00"/>
<rect x="28" y="470" width="3" height="11" fill="#00ff00"/>
<rect x="32" y="466" width="3" height="15" fill="#00ff00"/>
<rect x="36" y="463" width="3" height="18" fill="#00ff00"/>
<rect x="40" y="460" width="3" height="21" fill="#00ff00"/>
<rect x="44" y="455" width="3" height="26" fill="#00ff00"/>
<rect x="48" y="451" width="3" height="30" fill="#00ff00"/>
<rect x="52" y="448" width="3" height="33" fill="#00ff00"/>
<rect x="56" y="451" width="3" height="30" fill="#00ff00"/>
<rect x="60" y="452" width="3" height="29" fill="#00ff00"/>
<rect x="64" y="455" width="3" height="26" fill="#00ff00"/>
<rect x="68" y="459" width="3" height="22" fill="#00ff00"/>
<rect x="72" y="463" width="3" height="18" fill="#00ff00"/>
<rect x="76" y="468" width="3" height="13" fill="#00ff00"/>
<rect x="80" y="472" width="3" height="9" fill="#00ff00"/>
<rect x="84" y="474" width="3" height="7" fill="#00ff00"/>
<rect x="88" y="475" width="3" height="6" fill="#00ff00"/>
<rect x="92" y="475" width="3" height="6" fill="#00ff00"/>
<rect x="96" y="473" width="3" height="8" fill="#00ff00"/>
<rect x="100" y="473" width="3" height="8" fill="#00ff00"/>
<rect x="104" y="471" width="3" height="10" fill="#00ff00"/>
<rect x="108" y="470" width="3" height="11" fill="#00ff00"/>
<rect x="112" y="470" width="3" height="11" fill="#00ff00"/>
<rect x="116" y="470" width="3" height="11" fill="#00ff00"/>
<rect x="120" y="471" width="3" height="10" fill="#00ff00"/>
<rect x="124" y="474" width="3" height="7" fill="#00ff00"/>
<rect x="128" y="474" width="3" height="7" fill="#00ff00"/>
<rect x="132" y="477" width="3" height="4" fill="#00ff00"/>
<rect x="136" y="480" width="3" height="1" fill="#00ff00"/>
<rect x="140" y="481" width="3" height="2" fill="#00ff00"/>
<rect x="144" y="481" width="3" height="2" fill="#00ff00"/>
<rect x="148" y="481" width="3" height="3" fill="#00ff00"/>
<rect x="152" y="481" width="3" height="5" fill="#00ff00"/>
<rect x="156" y="481" width="3" height="7" fill="#00ff00"/>
<rect x="160" y="481" width="3" height="8" fill="#00ff00"/>
<rect x="164" y="481" width="3" height="9" fill="#00ff00"/>
<rect x="168" y="481" width="3" height="10" fill="#00ff00"/>
<rect x="172" y="481" width="3" height="9" fill="#00ff00"/>
<rect x="176" y="481" width="3" height="7" fill="#00ff00"/>
<rect x="180" y="481" width="3" height="5" fill="#00ff00"/>
<rect x="184" y="481" width="3" height="2" fill="#00ff00"/>
<rect x="188" y="481" width="3" height="1" fill="#00ff00"/>
<rect x="192" y="481" width="3" height="1" fill="#00ff00"/>
<rect x="196" y="481" width="3" height="1" fill="#00ff00"/>
<rect x="200" y="481" width="3" height="1" fill="#00ff00"/>
<rect x="204" y="481" width="3" height="1" fill="#00ff00"/>
<rect x="208" y="481" width="3" height="2" fill="#00ff00"/>
<rect x="212" y="481" width="3" height="3" fill="#00ff00"/>
<rect x="216" y="481" width="3" height="3" fill="#00ff00"/>
<rect x="220" y="481" width="3" height="3" fill="#00ff00"/>
<rect x="224" y="481" width="3" height="2" fill="#00ff00"/>
<rect x="228" y="481" width="3" height="1" fill="#00ff00"/>
<rect x="232" y="481" width="3" height="1" fill="#00ff00"/>
<rect x="236" y="480" width="3" height="1" fill="#00ff00"/>
<rect x="240" y="480" width="3" height="1" fill="#00ff00"/>
<rect x="244" y="479" width="3" height="2" fill="#00ff00"/>
<rect x="248" y="478" width="3" height="3" fill="#00ff00"/>
<rect x="252" y="476" width="3" height="5" fill="#00ff00"/>
<rect x="256" y="475" width="3" height="6" fill="#00ff00"/>
<rect x="260" y="477" width="3" height="4" fill="#00ff00"/>
<rect x="264" y="478" width="3" height="3" fill="#00ff00"/>
<rect x="268" y="478" width="3" height="3" fill="#00ff00"/>
<rect x="272" y="478" width="3" height="3" fill="#00ff00"/>
<rect x="276" y="477" width="3" height="4" fill="#00ff00"/>
<rect x="280" y="476" width="3" height="5" fill="#00ff00"/>
<rect x="284" y="474" width="3" height="7" fill="#00ff00"/>
<rect x="288" y="473" width="3" height="8" fill="#00ff00"/>
<rect x="292" y="474" width="3" height="7" fill="#00ff00"/>
<rect x="296" y="475" width="3" height="6" fill="#00ff00"/>
<rect x="300" y="474" width="3" height="7" fill="#00ff00"/>
<rect x="304" y="474" width="3" height="7" fill="#00ff00"/>
<rect x="308" y="474" width="3" height="7" fill="#00ff00"/>
<rect x="312" y="474" width="3" height="7" fill="#00ff00"/>
<rect x="316" y="474" width="3" height="7" fill="#00ff00"/>
<rect x="320" y="474" width="3" height="7" fill="#00ff00"/>
<rect x="324" y="473" width="3" height="8" fill="#00ff00"/>
<rect x="328" y="472" width="3" height="9" fill="#00ff00"/>
<rect x="332" y="471" width="3" height="10" fill="#00ff00"/>
<rect x="336" y="471" width="3" height="10" fill="#00ff00"/>
<rect x="340" y="472" width="3" height="9" fill="#00ff00"/>
<rect x="344" y="471" width="3" height="10" fill="#00ff00"/>
<rect x="348" y="470" width="3" height="11" fill="#00ff00"/>
<rect x="352" y="469" width="3" height="12" fill="#00ff00"/>
<rect x="356" y="469" width="3" height="12" fill="#00ff00"/>
<rect x="360" y="469" width="3" height="12" fill="#00ff00"/>
<rect x="364" y="468" width="3" height="13" fill="#00ff00"/>
<rect x="368" y="468" width="3" height="13" fill="#00ff00"/>
<rect x="372" y="468" width="3" height="13" fill="#00ff00"/>
<rect x="376" y="469" width="3" height="12" fill="#00ff00"/>
<rect x="380" y="469" width="3" height="12" fill="#00ff00"/>
<rect x="384" y="469" width="3" height="12" fill="#00ff00"/>
<rect x="388" y="472" width="3" height="9" fill="#00ff00"/>
<rect x="392" y="474" width="3" height="7" fill="#00ff00"/>
<rect x="396" y="477" width="3" height="4" fill="#00ff00"/>
<rect x="400" y="480" width="3" height="1" fill="#00ff00"/>
<rect x="404" y="481" width="3" height="2" fill="#00ff00"/>
<rect x="408" y="481" width="3" height="3" fill="#00ff00"/>
<rect x="412" y="481" width="3" height="6" fill="#00ff00"/>
<rect x="416" y="481" width="3" height="8" fill="#00ff00"/>
<rect x="420" y="481" width="3" height="9" fill="#00ff00"/>
<rect x="424" y="481" width="3" height="9" fill="#00ff00"/>
<rect x="428" y="481" width="3" height="9" fill="#00ff00"/>
<rect x="432" y="481" width="3" height="7" fill="#00ff00"/>
<rect x="436" y="481" width="3" height="6" fill="#00ff00"/>
<rect x="440" y="481" width="3" height="7" fill="#00ff00"/>
<rect x="444" y="481" width="3" height="7" fill="#00ff00"/>
<rect x="448" y="481" width="3" height="7" fill="#00ff00"/>
<rect x="452" y="481" width="3" height="7" fill="#00ff00"/>
<rect x="456" y="481" width="3" height="9" fill="#00ff00"/>
<rect x="460" y="481" width="3" height="11" fill="#00ff00"/>
<rect x="464" y="481" width="3" height="12" fill="#00ff00"/>
<rect x="468" y="481" width="3" height="11" fill="#00ff00"/>
<rect x="472" y="481" width="3" height="10" fill="#00ff00"/>
<rect x="476" y="481" width="3" height="11" fill="#00ff00"/>
<rect x="480" y="481" width="3" height="14" fill="#00ff00"/>
<rect x="484" y="481" width="3" height="15" fill="#00ff00"/>
<rect x="488" y="481" width="3" height="16" fill="#00ff00"/>
<rect x="492" y="481" width="3" height="16" fill="#00ff00"/>
<rect x="496" y="481" width="3" height="16" fill="#00ff00"/>
<rect x="500" y="481" width="3" height="15" fill="#00ff00"/>
<rect x="504" y="481" width="3" height="14" fill="#00ff00"/>
<rect x="508" y="481" width="3" height="13" fill="#00ff00"/>
<rect x="512" y="481" width="3" height="13" fill="#00ff00"/>
<rect x="516" y="481" width="3" height="13" fill="#00ff00"/>
<rect x="520" y="481" width="3" height="13" fill="#00ff00"/>
<rect x="524" y="481" width="3" height="13" fill="#00ff00"/>
<rect x="528" y="481" width="3" height="13" fill="#00ff00"/>
<rect x="532" y="481" width="3" height="12" fill="#00ff00"/>
<rect x="536" y="481" width="3" height="12" fill="#00ff00"/>
<rect x="540" y="481" width="3" height="11" fill="#00ff00"/>
<rect x="544" y="481" width="3" height="10" fill="#00ff00"/>
<rect x="548" y="481" width="3" height="11" fill="#00ff00"/>
<rect x="552" y="481" width="3" height="12" fill="#00ff00"/>
<rect x="556" y="481" width="3" height="12" fill="#00ff00"/>
<rect x="560" y="481" width="3" height="14" fill="#00ff00"/>
<rect x="564" y="481" width="3" height="15" fill="#00ff00"/>
<rect x="568" y="481" width="3" height="15" fill="#00ff00"/>
<rect x="572" y="481" width="3" height="15" fill="#00ff00"/>
<rect x="576" y="481" width="3" height="15" fill="#00ff00"/>
<rect x="580" y="481" width="3" height="14" fill="#00ff00"/>
<rect x="584" y="481" width="3" height="13" fill="#00ff00"/>
<rect x="588" y="481" width="3" height="12" fill="#00ff00"/>
<rect x="592" y="481" width="3" height="11" fill="#00ff00"/>
<rect x="596" y="481" width="3" height="12" fill="#00ff00"/>
<rect x="600" y="481" width="3" height="11" fill="#00ff00"/>
<rect x="604" y="481" width="3" height="11" fill="#00ff00"/>
<rect x="608" y="481" width="3" height="11" fill="#00ff00"/>
<rect x="612" y="481" width="3" height="10" fill="#00ff00"/>
<rect x="616" y="481" width="3" height="10" fill="#00ff00"/>
<rect x="620" y="481" width="3" height="10" fill="#00ff00"/>
<rect x="624" y="481" width="3" height="8" fill="#00ff00"/>
<rect x="628" y="481" width="3" height="6" fill="#00ff00"/>
<rect x="632" y="481" width="3" height="5" fill="#00ff00"/>
<rect x="636" y="481" width="3" height="5" fill="#00ff00"/>
<rect x="640" y="481" width="3" height="3" fill="#00ff00"/>
<rect x="644" y="481" width="3" height="2" fill="#00ff00"/>
<rect x="648" y="481" width="3" height="1" fill="#00ff00"/>
<rect x="652" y="481" width="3" height="3" fill="#00ff00"/>
<rect x="656" y="481" width="3" height="4" fill="#00ff00"/>
<rect x="660" y="481" width="3" height="5" fill="#00ff00"/>
<rect x="664" y="481" width="3" height="5" fill="#00ff00"/>
<rect x="668" y="481" width="3" height="5" fill="#00ff00"/>
<rect x="672" y="481" width="3" height="7" fill="#00ff00"/>
<rect x="676" y="481" width="3" height="9" fill="#00ff00"/>
<rect x="680" y="481" width="3" height="10" fill="#00ff00"/>
<rect x="684" y="481" width="3" height="10" fill="#00ff00"/>
<rect x="688" y="481" width="3" height="10" fill="#00ff00"/>
<rect x="692" y="481" width="3" height="9" fill="#00ff00"/>
<rect x="696" y="481" width="3" height="8" fill="#00ff00"/>
<rect x="700" y="481" width="3" height="7" fill="#00ff00"/>
<rect x="704" y="481" width="3" height="7" fill="#00ff00"/>
<rect x="708" y="481" width="3" height="7" fill="#00ff00"/>
<rect x="712" y="481" width="3" height="7" fill="#00ff00"/>
<rect x="716" y="481" width="3" height="7" fill="#00ff00"/>
<rect x="720" y="481" width="3" height="7" fill="#00ff00"/>
<rect x="724" y="481" width="3" height="7" fill="#00ff00"/>
<rect x="728" y="481" width="3" height="8" fill="#00ff00"/>
<rect x="732" y="481" width="3" height="10" fill="#00ff00"/>
<rect x="736" y="481" width="3" height="11" fill="#00ff00"/>
<rect x="740" y="481" width="3" height="12" fill="#00ff00"/>
<rect x="744" y="481" width="3" height="13" fill="#00ff00"/>
<rect x="748" y="481" width="3" height="12" fill="#00ff00"/>
<rect x="752" y="481" width="3" height="10" fill="#00ff00"/>
<rect x="756" y="481" width="3" height="9" fill="#00ff00"/>
<rect x="760" y="481" width="3" height="9" fill="#00ff00"/>
<rect x="764" y="481" width="3" height="9" fill="#00ff00"/>
<rect x="768" y="481" width="3" height="7" fill="#00ff00"/>
<rect x="772" y="481" width="3" height="5" fill="#00ff00"/>
<rect x="776" y="481" width="3" height="3" fill="#00ff00"/>
<rect x="780" y="480" width="3" height="1" fill="#00ff00"/>
<rect x="784" y="478" width="3" height="3" fill="#00ff00"/>
<rect x="788" y="477" width="3" height="4" fill="#00ff00"/>
<rect x="792" y="477" width="3" height="4" fill="#00ff00"/>
<rect x="796" y="477" width="3" height="4" fill="#00ff00"/>
<rect x="800" y="477" width="3" height="4" fill="#00ff00"/>
<rect x="804" y="478" width="3" height="3" fill="#00ff00"/>
<rect x="808" y="479" width="3" height="2" fill="#00ff00"/>
<rect x="812" y="480" width="3" height="1" fill="#00ff00"/>
<rect x="816" y="481" width="3" height="1" fill="#00ff00"/>
<rect x="820" y="481" width="3" height="1" fill="#00ff00"/>
<rect x="824" y="481" width="3" height="2" fill="#00ff00"/>
<rect x="828" y="481" width="3" height="2" fill="#00ff00"/>
<rect x="832" y="481" width="3" height="2" fill="#00ff00"/>
<rect x="836" y="481" width="3" height="2" fill="#00ff00"/>
<rect x="840" y="481" width="3" height="2" fill="#00ff00"/>
<rect x="844" y="481" width="3" height="1" fill="#00ff00"/>
<rect x="848" y="481" width="3" height="1" fill="#00ff00"/>
<rect x="852" y="480" width="3" height="1" fill="#00ff00"/>
<rect x="856" y="480" width="3" height="1" fill="#00ff00"/>
<rect x="860" y="480" width="3" height="1" fill="#00ff00"/>
<rect x="864" y="479" width="3" height="2" fill="#00ff00"/>
<rect x="868" y="479" width="3" height="2" fill="#00ff00"/>
<rect x="872" y="479" width="3" height="2" fill="#00ff00"/>
<rect x="876" y="478" width="3" height="3" fill="#00ff00"/>
<rect x="880" y="477" width="3" height="4" fill="#00ff00"/>
<rect x="884" y="476" width="3" height="5" fill="#00ff00"/>
<rect x="888" y="477" width="3" height="4" fill="#00ff00"/>
<rect x="892" y="478" width="3" height="3" fill="#00ff00"/>
<rect x="896" y="478" width="3" height="3" fill="#00ff00"/>
<rect x="900" y="478" width="3" height="3" fill="#00ff00"/>
<rect x="904" y="478" width="3" height="3" fill="#00ff00"/>
<rect x="908" y="479" width="3" height="2" fill="#00ff00"/>
<rect x="912" y="480" width="3" height="1" fill="#00ff00"/>
<rect x="916" y="481" width="3" height="1" fill="#00ff00"/>
<rect x="920" y="481" width="3" height="3" fill="#00ff00"/>
<rect x="924" y="481" width="3" height="5" fill="#00ff00"/>
<polyline points="1,472 8,472 16,474 28,474 35,472 44,469 51,463.7 58,458.7 64.5,456 71,455.3 78,456 84.5,460.7 93,466.5 99.5,469.8 106,472.7 116,472.7 119.5,472 132.7,472 141,474.3 149.5,477.3 157.7,480.7 166,483.7 174.4,486 179.4,487 189.4,487 193.5,485.7 200,484.8 205,483 211.6,482.3 245,482 251.5,480.3 258,479.3 266.5,478 279.8,478 286.5,476.8 293,476.5 299.8,475.7 309.7,474.8 316.4,474 336.3,474 341.3,472.7 349.6,472.3 356.3,470.7 364.6,469.8 374.6,469 387.9,469 391.2,469.8 397,470 400,471.5 405,473.6 418.3,480.2 426.6,484.4 433.3,486.9 439.9,487.2 441.6,488 463.2,488 466.5,488.9 473,488.9 476.5,489.7 481.5,490 488,492.2 494.8,493.9 503,493.9 506.4,495 529.7,495 531.3,493.9 541.3,493.9 543,493 553,493 555.4,491.9 567.9,491.9 570.4,493 581.2,493 582.9,493.9 596.2,493.9 600,492.7 609,492.7 610.8,491.9 621.6,491.9 623.3,490.9 630,490.6 638.2,488.6 654.9,484.4 663.2,483.6 668.2,483.6 669.8,484.4 676.5,484.7 679.8,486.4 686.5,488 699.8,488 702.2,488.9 716.4,488.9 718.9,488 733,488 734.7,488.9 741.3,489.2 744.6,490 752.1,490 753.8,490.9 772.9,490.9 777.9,488.9 782.9,487.6 789.5,484.4 794.5,483 800,480.6 805,479.2 811.6,478 820.8,478 826.6,479.7 833.3,480.2 844.9,480.9 846.6,481.7 856.5,481.7 859,480.9 873.2,480.6 874.8,479.7 881.5,479.4 883.1,478.6 889.8,478.6 891.4,478 913,478 916.4,479.2 921.4,480.2 925.5,480.9" fill="none" stroke="#ff0000" stroke-width="2" shape-rendering="crispEdges" stroke-linejoin="round"/>
<line x1="1" y1="520.5" x2="1168" y2="520.5" stroke="#000" stroke-width="1" stroke-dasharray="3,3" stroke-dashoffset="5"/>
<line x1="1" y1="542.5" x2="1168" y2="542.5" stroke="#000" stroke-width="1" stroke-dasharray="3,3" stroke-dashoffset="5"/>
<polyline points="1,524.8 4,526 8,526 13,522.6 17.5,527.6 21.6,522.6 25,523.4 30,516 34,515 37.4,517 40.7,516 45,513 49,516.8 53,517 57.4,527.6 65.7,528 69.8,529.6 76.5,534.7 81.5,534.7 86.5,531.3 93,531 97.3,527 101.4,527.6 105.6,526 113,527 117.2,527.6 122.2,531.8 124.7,531.8 127.2,531 129.7,531.3 134.7,535 142,535 145.5,531.8 152,535 164.6,535.4 169.6,536 173.7,531.3 177.9,530.6 182,528 188.7,528 193.7,531.8 200,531.8 205,532 209,533.4 213.3,535 216.6,532 222.4,531.8 226.6,529 236.6,529 240.7,531.3 244.9,526 257.4,526 261.5,533.4 265.3,536 269.8,530 273,529.6 278,526 283,525.6 286.5,523.8 289,523.8 293,531.8 298,529 304,527.6 307.2,529 313,529 318.9,527 323,524.8 328,524.8 332.2,523.8 335.5,524.8 340.5,528 345.5,525 351.3,522.6 354.6,523.8 362,523.8 366.2,522.6 369.6,523 373.7,526 382.9,526 387.9,529.6 392.9,532 397,538 400,538 403.3,536.7 409,536.7 414,541 416.6,541 421.6,536.7 425.8,536.7 430,531.8 435,531.8 441.6,536 447.4,533.8 450,533.8 453.2,531.8 457.4,540 461.5,540 466.5,536 471.5,533.8 477.3,535 482.3,541.4 486.5,539 490.6,538 499,538 504.7,534.7 509,534.7 513,537.6 518,539 522.2,539 528,536.7 533,535 540.5,535 544.6,533.8 549.6,537.6 553.8,538.4 560.4,542.6 564.6,543 569.6,541.7 574.6,538 578.7,537.6 585.4,533.8 589.5,536 592.9,536 597.8,540 600,540.3 605,540 609,536 620,536 626.6,529.6 630,529 633.3,531 641.6,531 645.2,526.8 649.9,533.4 656.5,536.7 662.3,536.7 666.5,534.7 671.5,535 678,541.2 681.5,540 686.5,535.4 690.6,534.7 694.8,533 699,532.6 701.4,531.8 704.7,536 709,536 713,534.7 717.2,535 722.2,536.7 730.5,536.7 733.8,539.6 737.2,540 741.3,541.7 745.5,539 750.5,534.7 753,535 757,536.7 763,532.6 766.3,532.6 770.4,528 772.9,527.6 777,526.8 781.2,522.6 784.5,522.6 789.5,526.4 796.2,529.8 800,529.3 804,531.8 812.5,531.8 817.5,535 822.4,532.6 829,532.6 831.6,531.8 834,533 842.4,533 845.7,527.6 857.4,527.6 861.5,531 865.7,527.6 869.8,527.6 873,529 877.3,523.4 880.6,526 885.6,526 893,533 898,533 902.2,529 905.6,529 909,533.8 913,531.8 916.4,533.4 922.2,538 925.5,538" fill="none" stroke="#1e90ff" stroke-width="2" shape-rendering="crispEdges" stroke-linejoin="round"/>
<rect x="0" y="26" width="1169" height="1" fill="#000"/>
<rect x="0" y="26" width="1" height="417" fill="#000"/>
<rect x="0" y="444" width="1" height="56" fill="#000"/>
<rect x="0" y="501" width="1" height="60" fill="#000"/>
<rect x="1168" y="26" width="1" height="417" fill="#000"/>
<rect x="1168" y="444" width="1" height="56" fill="#000"/>
<rect x="1168" y="501" width="1" height="60" fill="#000"/>
<rect x="0" y="442" width="1169" height="1" fill="#000"/>
<rect x="0" y="444" width="1169" height="1" fill="#000"/>
<rect x="0" y="499" width="1169" height="1" fill="#000"/>
<rect x="0" y="501" width="1169" height="1" fill="#000"/>
<rect x="0" y="560" width="1169" height="1" fill="#000"/>
<polygon points="928.5,27 938.5,27 933.5,32" fill="#000" shape-rendering="auto"/>
<polygon points="4,33 12,33 8,37.2" fill="#000" shape-rendering="auto"/>
<rect x="1169" y="43" width="2" height="1" fill="#000"/>
<rect x="1169" y="76" width="2" height="1" fill="#000"/>
<rect x="1169" y="109" width="2" height="1" fill="#000"/>
<rect x="1169" y="142" width="2" height="1" fill="#000"/>
<rect x="1169" y="175" width="2" height="1" fill="#000"/>
<rect x="1169" y="208" width="2" height="1" fill="#000"/>
<rect x="1169" y="241" width="2" height="1" fill="#000"/>
<rect x="1169" y="274" width="2" height="1" fill="#000"/>
<rect x="1169" y="307" width="2" height="1" fill="#000"/>
<rect x="1169" y="340" width="2" height="1" fill="#000"/>
<rect x="1169" y="373" width="2" height="1" fill="#000"/>
<rect x="1169" y="406" width="2" height="1" fill="#000"/>
<rect x="1169" y="439" width="2" height="1" fill="#000"/>
<rect x="1169" y="481" width="2" height="1" fill="#000"/>
<rect x="1169" y="446" width="1" height="1" fill="#000"/>
<rect x="1169" y="498" width="1" height="1" fill="#000"/>
<rect x="1169" y="503" width="1" height="1" fill="#000"/>
<rect x="1169" y="558" width="1" height="1" fill="#000"/>
<rect x="1169" y="520" width="2" height="1" fill="#000"/>
<rect x="1169" y="542" width="2" height="1" fill="#000"/>
<rect x="1" y="561" width="1" height="3" fill="#000"/>
<rect x="65" y="561" width="1" height="3" fill="#000"/>
<rect x="129" y="561" width="1" height="3" fill="#000"/>
<rect x="193" y="561" width="1" height="3" fill="#000"/>
<rect x="257" y="561" width="1" height="3" fill="#000"/>
<rect x="321" y="561" width="1" height="3" fill="#000"/>
<rect x="385" y="561" width="1" height="3" fill="#000"/>
<rect x="449" y="561" width="1" height="3" fill="#000"/>
<rect x="513" y="561" width="1" height="3" fill="#000"/>
<rect x="577" y="561" width="1" height="3" fill="#000"/>
<rect x="641" y="561" width="1" height="3" fill="#000"/>
<rect x="705" y="561" width="1" height="3" fill="#000"/>
<rect x="769" y="561" width="1" height="3" fill="#000"/>
<rect x="833" y="561" width="1" height="3" fill="#000"/>
<rect x="897" y="561" width="1" height="3" fill="#000"/>
</svg>
<span class="t" style="left:16px;top:29px;letter-spacing:-0.09px">USOil-,Daily</span>
<span class="t" style="left:75px;top:29px;letter-spacing:-0.28px">81.821 82.405 77.569 80.198</span>
<span class="t" style="left:5.5px;top:448px;letter-spacing:-0.19px">MACD(12,26,9) -0.9161 0.2110</span>
<span class="t" style="left:5.5px;top:505px;letter-spacing:-0.28px">RSI(14) 37.3715</span>
<span class="t ax" style="top:38px">131.020</span>
<span class="t ax" style="top:71px">126.260</span>
<span class="t ax" style="top:104px">121.640</span>
<span class="t ax" style="top:137px">117.020</span>
<span class="t ax" style="top:170px">112.400</span>
<span class="t ax" style="top:203px">107.780</span>
<span class="t ax" style="top:236px">103.160</span>
<span class="t ax" style="top:269px">98.400</span>
<span class="t ax" style="top:302px">93.780</span>
<span class="t ax" style="top:335px">89.160</span>
<span class="t ax" style="top:368px">84.540</span>
<span class="t ax" style="top:401px">79.920</span>
<span class="t ax" style="top:434px">75.300</span>
<span class="t" style="left:1172px;top:446.0px;letter-spacing:-0.36px">9.2266</span>
<span class="t" style="left:1172px;top:475.0px;letter-spacing:-0.36px">0.00</span>
<span class="t" style="left:1172px;top:487.0px;letter-spacing:-0.36px">-4.4188</span>
<span class="t" style="left:1172px;top:502.2px;letter-spacing:-0.36px">100</span>
<span class="t" style="left:1171.3px;top:514.6px;letter-spacing:-0.36px">70</span>
<span class="t" style="left:1171.3px;top:536.6px;letter-spacing:-0.36px">30</span>
<span class="t" style="left:1172px;top:547.6px;letter-spacing:-0.36px">0</span>
<div class="bx" style="top:100px;background:#ff0000">122.060</div>
<div class="bx" style="top:193px;background:#ff0000">109.030</div>
<div class="bx" style="top:278px;background:#00ff00">97.007</div>
<div class="bx" style="top:357px;background:#0000ff">85.988</div>
<div class="bx" style="top:399px;background:#000000">80.198</div>
<div class="bx" style="top:435px;background:#0000ff">74.969</div>
<span class="t" style="left:0.3px;top:564px;letter-spacing:-0.39px">21 Feb 2022</span>
<span class="t" style="left:64.3px;top:564px;letter-spacing:-0.39px">11 Mar 2022</span>
<span class="t" style="left:128.3px;top:564px;letter-spacing:-0.39px">30 Mar 2022</span>
<span class="t" style="left:192.3px;top:564px;letter-spacing:-0.39px">19 Apr 2022</span>
<span class="t" style="left:256.3px;top:564px;letter-spacing:-0.40px">8 May 2022</span>
<span class="t" style="left:320.3px;top:564px;letter-spacing:-0.40px">26 May 2022</span>
<span class="t" style="left:384.3px;top:564px;letter-spacing:-0.39px">14 Jun 2022</span>
<span class="t" style="left:448.3px;top:564px;letter-spacing:-0.37px">3 Jul 2022</span>
<span class="t" style="left:512.3px;top:564px;letter-spacing:-0.38px">21 Jul 2022</span>
<span class="t" style="left:576.3px;top:564px;letter-spacing:-0.39px">9 Aug 2022</span>
<span class="t" style="left:640.3px;top:564px;letter-spacing:-0.39px">28 Aug 2022</span>
<span class="t" style="left:704.3px;top:564px;letter-spacing:-0.40px">15 Sep 2022</span>
<span class="t" style="left:768.3px;top:564px;letter-spacing:-0.39px">4 Oct 2022</span>
<span class="t" style="left:832.3px;top:564px;letter-spacing:-0.39px">23 Oct 2022</span>
<span class="t" style="left:896.3px;top:564px;letter-spacing:-0.40px">10 Nov 2022</span>
<div class="g1" style="top:581px;background:#e8e8e8"></div>
<div id="tabs">
<div class="g1" style="top:0;background:#000"></div>
<div style="position:absolute;left:634px;top:0;width:90px;height:18px;background:#fff;border:1px solid #000;border-top:none"></div>
<span class="t" style="left:14.0px;letter-spacing:-0.11px">USDX,Daily</span>
<span class="t" style="left:100.5px;letter-spacing:-0.10px">EURUSD-,Daily</span>
<span class="t" style="left:207.7px;letter-spacing:0.04px">AUDUSD-,Daily</span>
<span class="t" style="left:318.2px;letter-spacing:-0.18px">USDCHF-,Daily</span>
<span class="t" style="left:424.9px;letter-spacing:-0.06px">USDCAD-,Daily</span>
<span class="t" style="left:533.9px;letter-spacing:0.06px">USDCNH-,Daily</span>
<span class="t" style="left:645.6px;letter-spacing:0.14px;color:#000">USOil-,Daily</span>
<span class="t" style="left:736.7px;letter-spacing:0.21px">UKOil-,Daily</span>
<span class="t" style="left:828.9px;letter-spacing:-0.03px">XAUUSD-,H4</span>
<span class="t" style="left:924.7px;letter-spacing:0.20px">UKOil-,H4</span>
<span class="t" style="left:1004.8px;letter-spacing:-0.09px">GBPUSD-,Daily</span>
<span class="t" style="left:1111.8px;letter-spacing:-0.13px">SP500-,H4</span>
<div class="sp" style="left:90px"></div>
<div class="sp" style="left:198px"></div>
<div class="sp" style="left:306px"></div>
<div class="sp" style="left:414px"></div>
<div class="sp" style="left:522px"></div>
<div class="sp" style="left:818px"></div>
<div class="sp" style="left:914px"></div>
<div class="sp" style="left:994px"></div>
<div class="sp" style="left:1102px"></div>
<svg width="30" height="12" viewBox="0 0 30 12" style="position:absolute;left:1173px;top:3px"><polygon points="9.2,2.8 9.2,9.6 5.6,6.2" fill="#8c8c8c"/><polygon points="24.9,2.8 24.9,9.6 28.5,6.2" fill="#000"/></svg>
<div class="g1" style="top:20px;background:#fafafa"></div><div class="g1" style="top:23px;background:#c4c4c4"></div><div class="g1" style="top:24px;background:#989898"></div>
</div>
</body></html>
